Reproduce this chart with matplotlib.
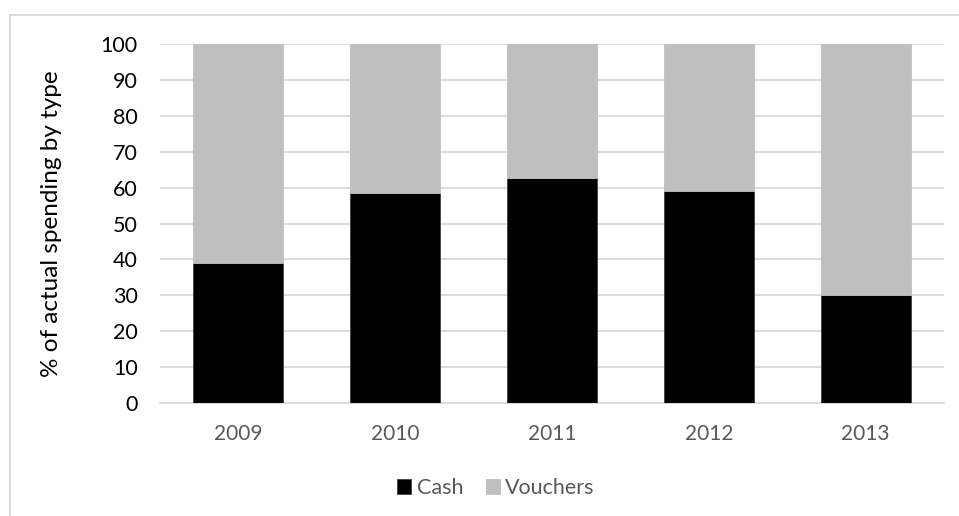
import matplotlib.pyplot as plt
from matplotlib.patches import Rectangle

plt.rcParams['font.family'] = ['Lato', 'DejaVu Sans']

years = ['2009', '2010', '2011', '2012', '2013']
cash = [39.0, 58.5, 62.7, 59.0, 30.1]
vouchers = [61.0, 41.5, 37.3, 41.0, 69.9]
yticks = [0, 10, 20, 30, 40, 50, 60, 70, 80, 90, 100]

fig = plt.figure(figsize=(9.59, 5.16), dpi=100)
W, H = 959, 516

# chart area border (Excel style), runs off the right/bottom edge
fig.patches.append(Rectangle((10 / W, -0.1), 1.2, 1 - 15 / H + 0.1,
                             transform=fig.transFigure, fill=False,
                             edgecolor='#d9d9d9', linewidth=1.3))

ax = fig.add_axes([160 / W, 1 - 403 / H, (944 - 160) / W, (403 - 44) / H])

x = range(len(years))
ax.bar(x, cash, width=0.573, color='black', edgecolor='#404040', linewidth=0.6,
       label='Cash', zorder=3)
ax.bar(x, vouchers, width=0.573, bottom=cash, color='#bfbfbf', edgecolor='#bfbfbf',
       linewidth=0.6, label='Vouchers', zorder=3)

ax.set_xlim(-0.5, 4.5)
ax.set_ylim(0, 100)
ax.set_yticks(yticks)
ax.set_xticks(list(x))
ax.set_xticklabels(years)
ax.yaxis.grid(True, color='#d9d9d9', linewidth=1.3, zorder=0)
ax.set_axisbelow(True)
for s in ['top', 'right', 'left']:
    ax.spines[s].set_visible(False)
ax.spines['bottom'].set_color('#d9d9d9')
ax.spines['bottom'].set_linewidth(1.3)
ax.tick_params(axis='both', length=0)
ax.tick_params(axis='y', labelsize=15.5, labelcolor='black', pad=16)
ax.tick_params(axis='x', labelsize=15, labelcolor='#595959', pad=15)

ax.set_ylabel('% of actual spending by type', fontsize=17.5, color='black')
ax.yaxis.set_label_coords(-0.125, 0.5)

fig.legend(loc='center', bbox_to_anchor=(496 / W, 1 - 488 / H), ncol=2,
           frameon=False, fontsize=15.5, labelcolor='#595959',
           handlelength=0.65, handleheight=0.65, handletextpad=0.25,
           columnspacing=1.05, borderaxespad=0, borderpad=0)

fig.savefig('out.png', dpi=100)
